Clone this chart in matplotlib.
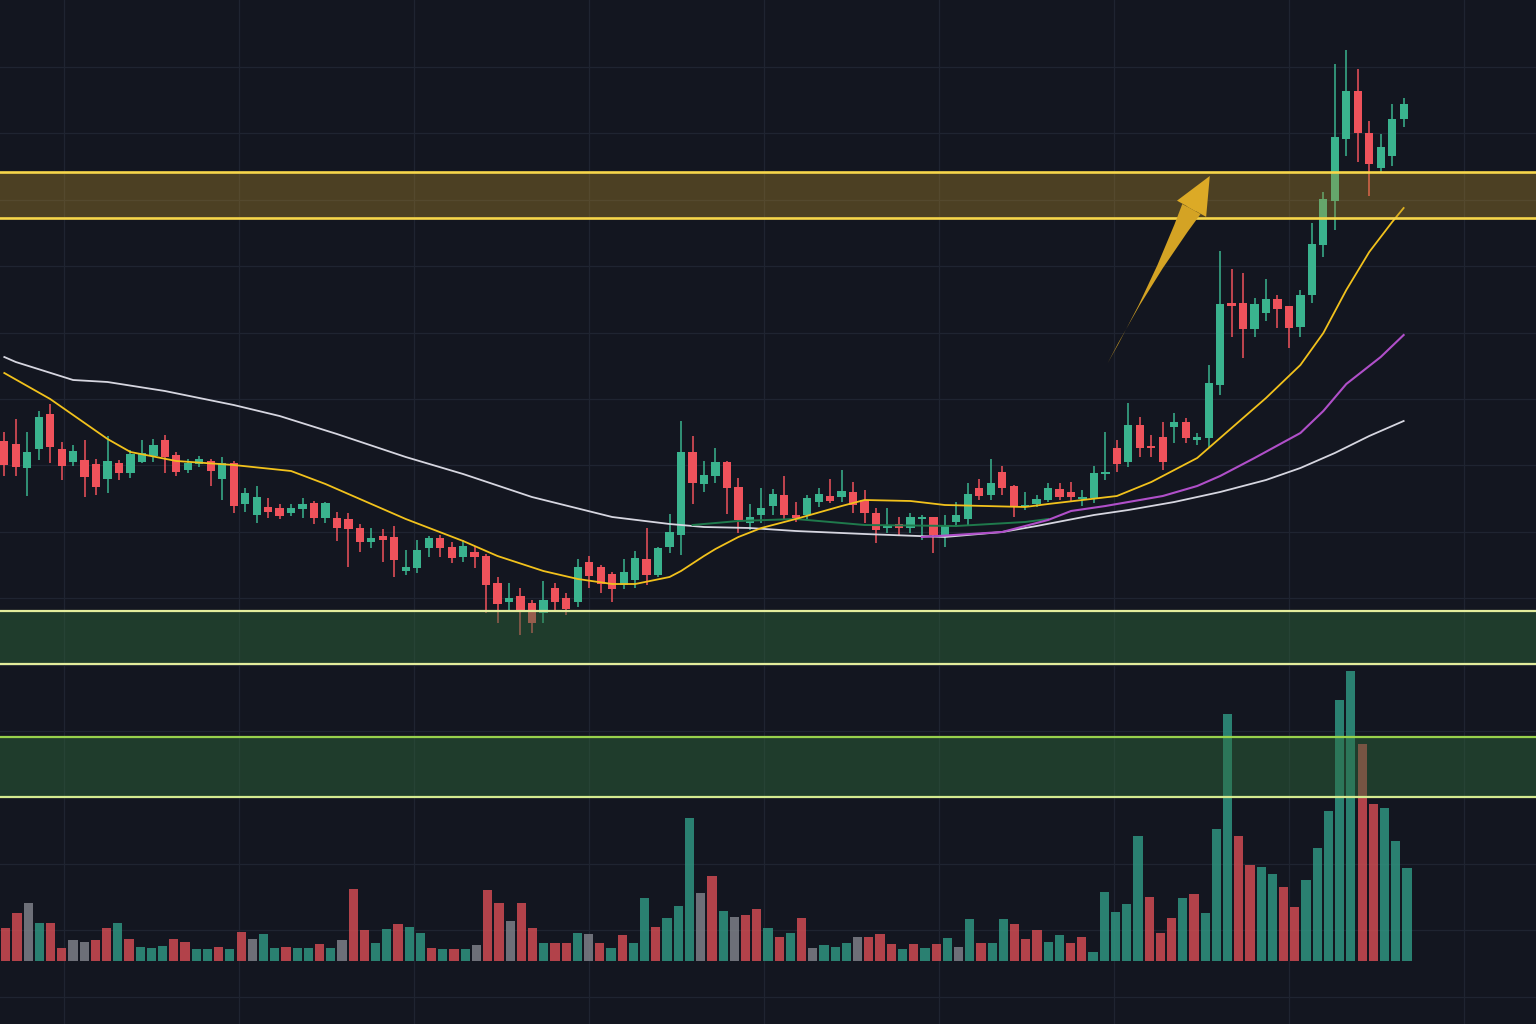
import numpy as np
import matplotlib
matplotlib.use("Agg")
import matplotlib.pyplot as plt
from matplotlib.patches import FancyArrowPatch

# candle data (price units)
opens = [55.9, 55.6, 53.2, 55.1, 58.6, 55.1, 53.8, 54.0, 53.6, 52.1,
         53.7, 52.7, 53.8, 54.4, 56.0, 54.5, 53.0, 53.6, 53.9, 52.1,
         53.7, 49.6, 48.5, 49.3, 49.2, 48.7, 49.1, 49.7, 48.2, 48.2,
         48.1, 47.2, 45.8, 46.4, 46.3, 42.9, 43.2, 45.2, 46.2, 45.3,
         44.3, 44.8, 44.4, 41.7, 39.8, 40.4, 39.7, 38.7, 41.2, 40.2,
         39.8, 43.8, 43.3, 42.6, 41.5, 42.0, 44.1, 42.5, 45.3, 46.5,
         54.8, 51.6, 52.4, 53.8, 51.3, 47.7, 48.5, 49.4, 50.5, 48.5,
         48.5, 49.8, 50.4, 50.3, 50.8, 50.0, 48.7, 47.2, 47.6, 47.2,
         48.1, 48.3, 46.3, 47.8, 48.1, 51.2, 50.5, 52.8, 51.4, 49.3,
         49.6, 50.0, 51.1, 50.8, 50.1, 50.2, 52.6, 55.2, 53.8, 57.5,
         55.4, 56.3, 57.3, 57.8, 56.0, 56.2, 61.5, 69.7, 69.7, 67.1,
         68.7, 70.1, 69.4, 67.3, 70.5, 75.5, 79.9, 86.1, 90.9, 86.7,
         83.2, 84.4, 88.1]
closes = [53.5, 53.3, 54.8, 58.3, 55.3, 53.4, 54.9, 52.3, 51.3, 53.9,
          52.7, 54.6, 54.7, 55.5, 54.3, 52.8, 53.7, 54.1, 52.9, 53.7,
          49.4, 50.7, 50.3, 48.8, 48.4, 49.2, 49.6, 48.2, 49.7, 47.2,
          47.1, 45.8, 46.2, 46.0, 44.0, 43.3, 45.0, 46.2, 45.2, 44.2,
          45.4, 44.3, 41.5, 39.6, 40.2, 39.0, 37.7, 40.0, 39.8, 39.1,
          43.3, 42.4, 41.6, 41.1, 42.8, 44.2, 42.5, 45.2, 46.8, 54.8,
          51.7, 52.5, 53.8, 51.2, 48.0, 48.3, 49.2, 50.6, 48.5, 48.2,
          50.2, 50.6, 49.9, 50.9, 49.5, 48.7, 47.0, 47.4, 47.2, 48.3,
          48.3, 46.5, 47.4, 48.5, 50.6, 50.4, 51.7, 51.2, 49.4, 49.5,
          50.1, 51.2, 50.3, 50.3, 50.3, 52.7, 52.8, 53.6, 57.5, 55.2,
          55.2, 53.8, 57.8, 56.2, 56.3, 61.7, 69.6, 69.4, 67.1, 69.6,
          70.1, 69.1, 67.2, 70.5, 75.6, 80.1, 86.3, 90.9, 86.7, 83.6,
          85.3, 88.1, 89.6]
highs = [56.8, 58.1, 56.8, 58.9, 59.6, 55.8, 55.5, 56.0, 54.1, 56.4,
         54.0, 55.0, 56.0, 56.1, 56.5, 54.8, 54.1, 54.4, 54.1, 54.3,
         53.9, 51.2, 51.4, 50.2, 49.6, 49.6, 50.2, 49.9, 49.8, 48.8,
         48.7, 47.6, 47.2, 47.1, 47.4, 45.0, 46.0, 46.4, 46.5, 45.8,
         46.0, 45.4, 44.6, 42.3, 41.7, 41.2, 40.0, 41.9, 41.7, 40.7,
         44.1, 44.4, 43.5, 42.8, 44.1, 44.9, 47.2, 45.3, 48.6, 57.9,
         56.4, 53.9, 55.2, 53.9, 52.2, 49.6, 51.2, 51.1, 52.4, 49.8,
         50.5, 51.2, 52.1, 53.0, 51.8, 51.0, 49.2, 49.2, 48.3, 48.7,
         48.5, 48.3, 48.5, 49.8, 51.7, 52.1, 54.1, 53.4, 51.5, 50.8,
         50.5, 51.7, 51.7, 51.8, 51.0, 53.4, 56.8, 56.0, 59.7, 58.3,
         56.5, 57.8, 58.7, 58.2, 56.7, 63.5, 74.9, 73.1, 72.7, 70.2,
         72.1, 70.5, 69.4, 71.0, 77.7, 80.8, 93.6, 95.0, 93.1, 87.9,
         86.6, 89.6, 90.2]
lows = [52.4, 52.4, 50.4, 54.0, 53.7, 52.0, 53.4, 50.3, 50.5, 50.7,
        52.0, 52.2, 53.7, 53.8, 52.7, 52.4, 52.7, 53.3, 51.4, 50.0,
        48.7, 48.8, 47.7, 48.2, 48.1, 48.4, 48.2, 47.6, 47.7, 45.9,
        43.3, 44.8, 45.2, 43.8, 42.3, 42.5, 42.7, 44.3, 44.3, 43.7,
        43.8, 43.2, 38.7, 37.7, 39.0, 36.5, 36.7, 37.7, 38.9, 38.5,
        39.3, 41.2, 40.7, 39.8, 41.1, 41.2, 41.5, 42.3, 44.7, 44.5,
        49.6, 50.8, 51.7, 48.6, 46.7, 47.0, 47.7, 48.5, 48.1, 47.8,
        48.1, 49.3, 49.7, 49.8, 48.7, 47.7, 45.7, 46.7, 46.5, 46.7,
        46.0, 44.7, 45.3, 47.3, 47.5, 50.0, 50.0, 50.5, 48.3, 49.0,
        49.3, 49.8, 50.0, 49.8, 49.4, 49.7, 52.0, 52.8, 53.3, 54.3,
        54.3, 53.0, 55.7, 55.7, 55.5, 55.3, 60.5, 66.3, 64.2, 66.3,
        67.9, 67.2, 65.2, 66.3, 69.7, 74.3, 77.0, 84.4, 83.8, 80.4,
        82.7, 83.4, 87.3]

# volume (millions) and bar colour code: g up, r down, n neutral
volumes = [3.3, 4.8, 5.8, 3.8, 3.8, 1.3, 2.1, 1.9, 2.1, 3.3,
           3.8, 2.2, 1.4, 1.3, 1.5, 2.2, 1.9, 1.2, 1.2, 1.4,
           1.2, 2.9, 2.2, 2.7, 1.3, 1.4, 1.3, 1.3, 1.7, 1.3,
           2.1, 7.2, 3.1, 1.8, 3.2, 3.7, 3.4, 2.8, 1.3, 1.2,
           1.2, 1.2, 1.6, 7.1, 5.8, 4.0, 5.8, 3.3, 1.8, 1.8,
           1.8, 2.8, 2.7, 1.8, 1.3, 2.6, 1.8, 6.3, 3.4, 4.3,
           5.5, 14.3, 6.8, 8.5, 5.0, 4.4, 4.6, 5.2, 3.3, 2.4,
           2.8, 4.3, 1.3, 1.6, 1.4, 1.8, 2.4, 2.4, 2.7, 1.7,
           1.2, 1.7, 1.3, 1.7, 2.3, 1.4, 4.2, 1.8, 1.8, 4.2,
           3.7, 2.2, 3.1, 1.9, 2.6, 1.8, 2.4, 0.9, 6.9, 4.9,
           5.7, 12.5, 6.4, 2.8, 4.3, 6.3, 6.7, 4.8, 13.2, 24.7,
           12.5, 9.6, 9.4, 8.7, 7.4, 5.4, 8.1, 11.3, 15.0, 26.1,
           29.0, 21.7, 15.7, 15.3, 12.0, 9.3]
vol_dirs = ("rrngrrnnrr" "grgggrrggr" "grnggrggrg" "nrrggrggrg" "rgnrrnrrgr"
            "rgnrgrggrg" "ggnrgnrrgr" "grngggnrrr" "grgrgngrgg" "rrrggrrggg"
            "ggrrrgrggg" "rrggrrgggg" "grrggg")

# moving averages read at candle indices
ma_fast_idx = [0, 4, 6, 9, 11, 15, 20, 25, 28, 30, 35, 40, 43, 47, 50, 53, 55, 58,
               59, 61, 62, 64, 66, 69, 73, 75, 79, 82, 89, 91, 94, 97, 100, 102,
               104, 107, 110, 113, 115, 117, 119, 121, 122]
ma_fast = [62.7, 60.1, 58.5, 56.1, 54.8, 53.9, 53.5, 52.9, 51.6, 50.6, 48.1, 45.9,
           44.4, 42.9, 42.1, 41.6, 41.6, 42.3, 42.9, 44.4, 45.1, 46.3, 47.2, 48.1,
           49.4, 50.0, 49.9, 49.5, 49.3, 49.6, 50.0, 50.4, 51.8, 53.0, 54.2, 57.2,
           60.2, 63.5, 66.7, 71.0, 74.8, 77.8, 79.2]
ma_slow_idx = [0, 1, 6, 9, 14, 20, 24, 29, 35, 40, 46, 53, 58, 61, 65, 69, 75, 82,
               87, 90, 95, 98, 102, 106, 110, 113, 116, 119, 122]
ma_slow = [64.3, 63.8, 62.0, 61.8, 60.9, 59.5, 58.4, 56.6, 54.3, 52.6, 50.3, 48.3,
           47.6, 47.3, 47.2, 46.9, 46.6, 46.3, 46.8, 47.4, 48.5, 49.0, 49.8, 50.8,
           52.0, 53.2, 54.7, 56.4, 57.9]
ma_mid_idx = [80, 87, 91, 93, 96, 101, 104, 106, 109, 113, 115, 117, 120, 122]
ma_mid = [46.3, 46.8, 48.0, 48.9, 49.4, 50.4, 51.4, 52.4, 54.2, 56.7, 58.9, 61.6,
          64.3, 66.5]
ma_base_idx = [60, 64, 69, 75, 83, 89, 91]
ma_base = [47.5, 47.9, 48.1, 47.5, 47.4, 47.8, 48.1]

resistance_zone = (78.2, 82.8)
support_zone = (33.6, 38.9)
lower_zone = (20.3, 26.3)
arrow_tail = (96.2, 63.7)
arrow_base = (103.5, 79.1)
arrow_tip = (105.1, 82.4)

BG = "#131620"
UP = "#3ab38e"
DOWN = "#ef525b"

opens = np.array(opens); closes = np.array(closes)
highs = np.array(highs); lows = np.array(lows)
idx = np.arange(len(opens))

fig = plt.figure(figsize=(15.36, 10.24), dpi=100)
fig.patch.set_facecolor(BG)

# background grid
bg = fig.add_axes([0, 0, 1, 1])
bg.set_facecolor(BG)
bg.set_xlim(0, 1536)
bg.set_ylim(1024, 0)
bg.set_xticks(np.arange(64, 1536, 175))
bg.set_yticks(np.arange(67, 1024, 66.4))
bg.grid(True, color="#1f2431", lw=0.9)
bg.tick_params(length=0, labelbottom=False, labelleft=False)
for s in bg.spines.values():
    s.set_visible(False)

# volume panel
axv = fig.add_axes([0, 0, 1, 1])
axv.axis("off")
vcol = {"g": "#2f9480", "r": "#cf4b52", "n": "#7e8088"}
vidx = np.arange(len(volumes))
axv.bar(vidx, volumes, width=0.82, color=[vcol[c] for c in vol_dirs], alpha=0.85, lw=0)
axv.set_xlim(-0.508, -0.508 + 1536 / 11.21)
axv.set_ylim(-6.3, 96.1)

# price panel
ax = fig.add_axes([0, 0, 1, 1])
ax.axis("off")
ax.set_xlim(-0.375, -0.375 + 1536 / 11.47)
ax.set_ylim(-2.4, 100)

up = closes >= opens
colors = np.where(up, UP, DOWN)
ax.vlines(idx, lows, highs, colors=colors, lw=1.1, zorder=2)
body_lo = np.minimum(opens, closes)
body_h = np.maximum(np.abs(closes - opens), 0.25)
ax.bar(idx, body_h, bottom=body_lo, width=0.72, color=colors, lw=0, zorder=2)

ax.plot(ma_slow_idx, ma_slow, color="#d6d6e0", lw=1.3, zorder=3)
ax.plot(ma_base_idx, ma_base, color="#1f7a4c", lw=1.4, zorder=3)
ax.plot(ma_mid_idx, ma_mid, color="#b04fc9", lw=1.5, zorder=3)
ax.plot(ma_fast_idx, ma_fast, color="#f2c21c", lw=1.3, zorder=3)

# zones
ax.axhspan(*resistance_zone, color="#b8902a", alpha=0.35, lw=0, zorder=4)
for lvl in resistance_zone:
    ax.axhline(lvl, color="#f7d64a", lw=1.9, zorder=5)
ax.axhspan(*support_zone, color="#2f6b3c", alpha=0.45, lw=0, zorder=4)
for lvl in support_zone:
    ax.axhline(lvl, color="#e3ec9c", lw=1.6, zorder=5)
ax.axhspan(*lower_zone, color="#2f6b3c", alpha=0.45, lw=0, zorder=4)
ax.axhline(lower_zone[1], color="#98d24c", lw=1.6, zorder=5)
ax.axhline(lower_zone[0], color="#d4ea90", lw=1.6, zorder=5)

# breakout arrow
shaft = FancyArrowPatch(arrow_base, arrow_tail,
                        arrowstyle="wedge,tail_width=0.75,shrink_factor=0.15",
                        mutation_scale=20, color="#d4a324", lw=0,
                        shrinkA=0, shrinkB=0, zorder=6)
head = FancyArrowPatch(arrow_base, arrow_tip,
                       arrowstyle="simple,head_length=1.35,head_width=1.2,tail_width=0.35",
                       mutation_scale=20, color="#dcaa26", lw=0,
                       shrinkA=0, shrinkB=0, zorder=6)
ax.add_patch(shaft)
ax.add_patch(head)

fig.savefig("out.png", dpi=100, facecolor=BG)
